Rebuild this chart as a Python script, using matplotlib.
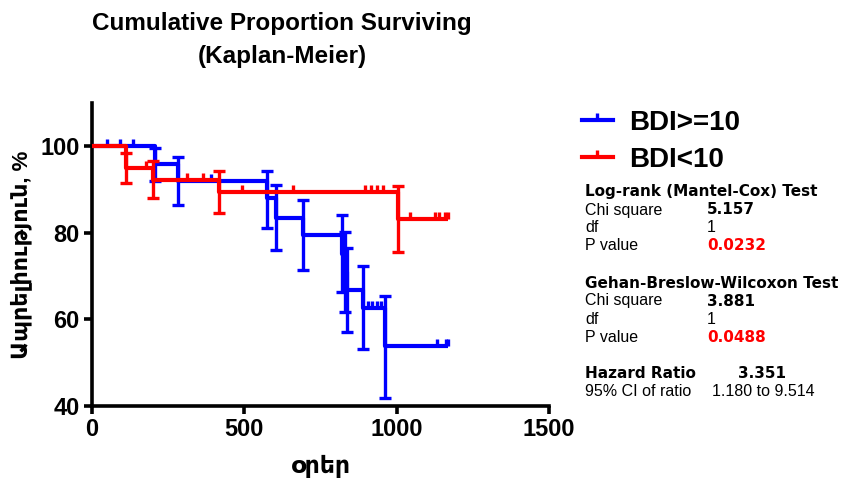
import matplotlib
matplotlib.use("Agg")
import matplotlib.pyplot as plt
from matplotlib.lines import Line2D
import numpy as np

plt.rcParams['font.family'] = ['Liberation Sans', 'DejaVu Sans']

# BDI>=10 group: event times, survival after event, CI ends, censored times
blue_t = [207, 283, 573, 604, 694, 822, 830, 838, 888, 962]
blue_s = [95.8, 92.0, 88.0, 83.5, 79.4, 75.2, 71.0, 66.9, 62.6, 53.8]
blue_lo = [92.0, 86.4, 81.1, 76.0, 71.4, 66.4, 61.7, 57.1, 53.1, 41.8]
blue_hi = [99.7, 97.5, 94.4, 91.0, 87.5, 84.1, 80.2, 76.4, 72.4, 65.4]
blue_cens = [48, 92, 136, 390, 905, 920, 935, 950, 1131, 1162, 1168]

# BDI<10 group
red_t = [112, 200, 418, 1005]
red_s = [95.0, 92.2, 89.5, 83.1]
red_lo = [91.5, 88.0, 84.6, 75.5]
red_hi = [98.5, 96.6, 94.4, 90.8]
red_cens = [176, 311, 363, 491, 661, 896, 915, 935, 955, 1044, 1126, 1140, 1160, 1168]

BLUE = '#0000FF'
RED = '#FF0000'
BOLD_FAM = ['DejaVu Sans']


def draw_km(ax, t, s, lo, hi, cens, color, z):
    t = np.array(t, float)
    s = np.array(s, float)
    cens = np.array(cens, float)
    end = max(cens.max(), t.max())
    xs = np.concatenate([[0], t, [end]])
    ys = np.concatenate([[100], s, [s[-1]]])
    ax.step(xs, ys, where='post', color=color, lw=3.0, zorder=z,
            solid_capstyle='butt')
    ax.errorbar(t, s, yerr=[s - np.array(lo), np.array(hi) - s], fmt='none',
                ecolor=color, elinewidth=2.4, capsize=4.5, capthick=2.4,
                zorder=z)
    # survival at each censored time
    idx = np.searchsorted(t, cens, side='right')
    cy = np.concatenate([[100], s])[idx]
    ax.plot(cens, cy, linestyle='none', marker=2, ms=5, mew=2.4,
            color=color, zorder=z)


fig = plt.figure(figsize=(8.62, 4.82), dpi=100)
ax = fig.add_axes([92 / 862, 1 - 406 / 482, 457 / 862, 303 / 482])

draw_km(ax, blue_t, blue_s, blue_lo, blue_hi, blue_cens, BLUE, 3)
draw_km(ax, red_t, red_s, red_lo, red_hi, red_cens, RED, 4)

ax.set_xlim(0, 1500)
ax.set_ylim(40, 110)
ax.set_xticks([0, 500, 1000, 1500])
ax.set_yticks([40, 60, 80, 100])
for sp in ['top', 'right']:
    ax.spines[sp].set_visible(False)
for sp in ['left', 'bottom']:
    ax.spines[sp].set_linewidth(2.6)
ax.tick_params(width=2.6, length=6, labelsize=17, pad=3)
for lab in ax.get_xticklabels() + ax.get_yticklabels():
    lab.set_fontweight('bold')

ax.set_xlabel('օրեր', fontsize=17, fontweight='bold', labelpad=10)
ax.set_ylabel('Ապրելիություն, %', fontsize=16, fontweight='bold', labelpad=6)

fig.text(0.327, 0.952, 'Cumulative Proportion Surviving', ha='center',
         va='center', fontsize=17.5, fontweight='bold')
fig.text(0.327, 0.882, '(Kaplan-Meier)', ha='center', va='center',
         fontsize=17.5, fontweight='bold')

handles = [Line2D([], [], color=BLUE, lw=3, marker=2, ms=5, mew=2.4),
           Line2D([], [], color=RED, lw=3, marker=2, ms=5, mew=2.4)]
fig.legend(handles, ['BDI>=10', 'BDI<10'], loc='upper left',
           bbox_to_anchor=(582 / 862, 1 - 110 / 482), frameon=False,
           prop={'weight': 'bold', 'size': 20}, handlelength=1.1,
           handletextpad=0.6, labelspacing=0.4, numpoints=1,
           borderaxespad=0, borderpad=0)

# statistics block
x0 = 585 / 862
x1 = 707 / 862
fs = 11.5
bfs = 11
rows = [
    (192, 'Log-rank (Mantel-Cox) Test', None, 'k'),
    (210, 'Chi square', '5.157', 'k'),
    (228, 'df', '1', 'k'),
    (245, 'P value', '0.0232', RED),
    (283, 'Gehan-Breslow-Wilcoxon Test', None, 'k'),
    (301, 'Chi square', '3.881', 'k'),
    (319, 'df', '1', 'k'),
    (337, 'P value', '0.0488', RED),
]
for y, label, val, c in rows:
    yy = 1 - y / 482
    if val is None:
        fig.text(x0, yy, label, fontsize=bfs, fontweight='bold',
                 family=BOLD_FAM, va='center')
    else:
        fig.text(x0, yy, label, fontsize=fs, va='center')
        if val == '1':
            fig.text(x1, yy, val, fontsize=fs, color=c, va='center')
        else:
            fig.text(x1, yy, val, fontsize=bfs, fontweight='bold',
                     family=BOLD_FAM, color=c, va='center')

fig.text(x0, 1 - 373 / 482, 'Hazard Ratio', fontsize=bfs, fontweight='bold',
         family=BOLD_FAM, va='center')
fig.text(738 / 862, 1 - 373 / 482, '3.351', fontsize=bfs, fontweight='bold',
         family=BOLD_FAM, va='center')
fig.text(x0, 1 - 391 / 482, '95% CI of ratio', fontsize=fs, va='center')
fig.text(712 / 862, 1 - 391 / 482, '1.180 to 9.514', fontsize=fs,
         va='center')

fig.savefig('out.png', dpi=100)
